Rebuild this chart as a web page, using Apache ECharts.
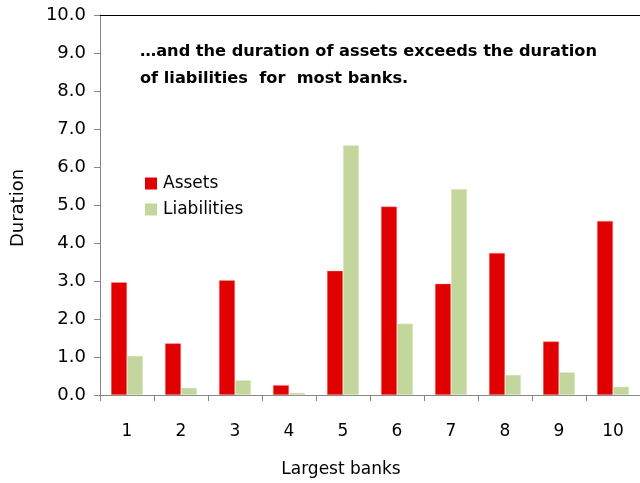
<!DOCTYPE html>
<html>
<head>
<meta charset="utf-8">
<script src="https://cdn.jsdelivr.net/npm/echarts@6/dist/echarts.min.js"></script>
<style>html,body{margin:0;padding:0;background:#fff}#c{width:640px;height:483px}</style>
</head>
<body>
<div id="c"></div>
<script>
const categories = ['1','2','3','4','5','6','7','8','9','10'];
const assets = [2.97, 1.36, 3.02, 0.26, 3.27, 4.96, 2.93, 3.74, 1.41, 4.58];
const liabilities = [1.03, 0.19, 0.39, 0.06, 6.57, 1.88, 5.42, 0.53, 0.60, 0.22];
const yTicks = {min: 0, max: 10, interval: 1};
const titleText = '…and the duration of assets exceeds the duration\nof liabilities  for  most banks.';
const FONT = 'DejaVu Sans';

const chart = echarts.init(document.getElementById('c'), null, {renderer: 'canvas'});
chart.setOption({
  animation: false,
  backgroundColor: '#ffffff',
  title: {
    text: titleText,
    left: 140, top: 38, padding: 0,
    textStyle: {fontFamily: FONT, fontSize: 16.2, fontWeight: 'bold', color: '#000', lineHeight: 27}
  },
  legend: {
    orient: 'vertical', left: 145, top: 175, padding: 0,
    itemWidth: 12, itemHeight: 12, itemGap: 9,
    icon: 'rect',
    itemStyle: {borderWidth: 0},
    textStyle: {fontFamily: FONT, fontSize: 17, color: '#000', padding: [0, 0, 0, 1]},
    data: ['Assets', 'Liabilities']
  },
  grid: {left: 100, right: 0, top: 15, bottom: 86, containLabel: false},
  xAxis: [{
    type: 'category', data: categories,
    axisLine: {lineStyle: {color: '#868686', width: 1}},
    axisTick: {show: true, length: 6, lineStyle: {color: '#868686'}},
    axisLabel: {fontFamily: FONT, fontSize: 17, color: '#000', margin: 28},
    name: 'Largest banks', nameLocation: 'middle', nameGap: 66,
    nameTextStyle: {fontFamily: FONT, fontSize: 17, color: '#000', padding: [0, 58, 0, 0]}
  }, {
    type: 'category', data: categories, position: 'top',
    axisLine: {show: true, lineStyle: {color: '#000', width: 1}},
    axisTick: {show: false}, axisLabel: {show: false}
  }],
  yAxis: {
    type: 'value', min: yTicks.min, max: yTicks.max, interval: yTicks.interval,
    axisLine: {show: true, lineStyle: {color: '#868686', width: 1}},
    axisTick: {show: true, length: 6, lineStyle: {color: '#868686'}},
    splitLine: {show: false},
    axisLabel: {fontFamily: FONT, fontSize: 18, color: '#000', margin: 14, formatter: v => v.toFixed(1)},
    name: 'Duration', nameLocation: 'middle', nameGap: 73, nameRotate: 90,
    nameTextStyle: {fontFamily: FONT, fontSize: 18, color: '#000', padding: [0, 6, 0, 0]}
  },
  series: [{
    name: 'Assets', type: 'bar', data: assets, barWidth: 16, barGap: '0%',
    itemStyle: {color: '#E00000', borderColor: 'rgba(255,160,160,0.8)', borderWidth: 0.5}
  }, {
    name: 'Liabilities', type: 'bar', data: liabilities, barWidth: 16, barGap: '0%',
    itemStyle: {color: '#C3D69B', borderColor: 'rgba(235,245,220,0.8)', borderWidth: 0.5}
  }]
});
</script>
</body>
</html>
